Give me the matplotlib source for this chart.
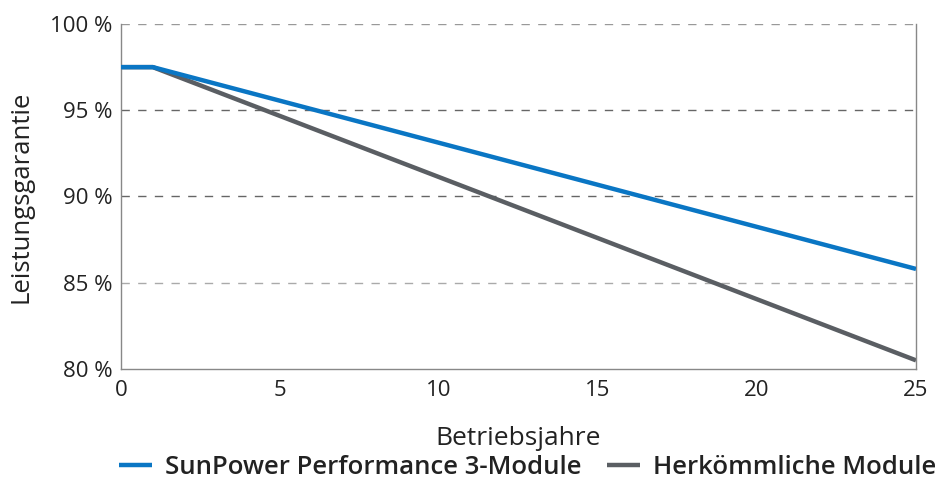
import matplotlib
matplotlib.use("Agg")
import matplotlib.pyplot as plt

years = [0, 1, 25]
sunpower = [97.5, 97.5, 85.8]
conventional = [97.5, 97.5, 80.5]
series_names = ["SunPower Performance 3-Module", "Herkömmliche Module"]
y_ticks = [80, 85, 90, 95, 100]
y_tick_labels = ["80 %", "85 %", "90 %", "95 %", "100 %"]
x_ticks = [0, 5, 10, 15, 20, 25]

plt.rcParams['font.family'] = ['Open Sans', 'DejaVu Sans']

fig = plt.figure(figsize=(9.42, 4.88), dpi=100)
ax = fig.add_axes([0.1285, 0.2439, 0.8439, 0.7069])

grid_colors = {85: "#aaaaaa", 90: "#666666", 95: "#666666", 100: "#999999"}
for yv, c in grid_colors.items():
    ax.axhline(yv, color=c, lw=1.0, ls=(0, (6, 6)), zorder=1)

ax.plot(years, sunpower, color="#0a76c4", lw=3.2, solid_capstyle="butt", zorder=3, label=series_names[0])
ax.plot(years, conventional, color="#5a5e63", lw=3.2, solid_capstyle="butt", zorder=2, label=series_names[1])

ax.set_xlim(0, 25)
ax.set_ylim(80, 100)
ax.set_yticks(y_ticks)
ax.set_yticklabels(y_tick_labels)
ax.set_xticks(x_ticks)
ax.tick_params(length=0, labelsize=16, colors="#222222", pad=6)
ax.tick_params(axis='x', pad=8)

for s in ["left", "bottom", "right"]:
    ax.spines[s].set_color("#888888")
    ax.spines[s].set_linewidth(1.0)
ax.spines["top"].set_visible(False)

ax.set_xlabel("Betriebsjahre", fontsize=19, color="#222222", labelpad=18)
ax.set_ylabel("Leistungsgarantie", fontsize=18.5, color="#222222", labelpad=12)

leg = fig.legend(loc="lower center", bbox_to_anchor=(0.56, 0.0), ncol=2, frameon=False,
                 fontsize=18.5, handlelength=1.3, columnspacing=1.0, handletextpad=0.5,
                 borderaxespad=0.1, borderpad=0.2)
for t in leg.get_texts():
    t.set_fontweight("semibold")
    t.set_color("#222222")

fig.savefig("out.png", dpi=100)
